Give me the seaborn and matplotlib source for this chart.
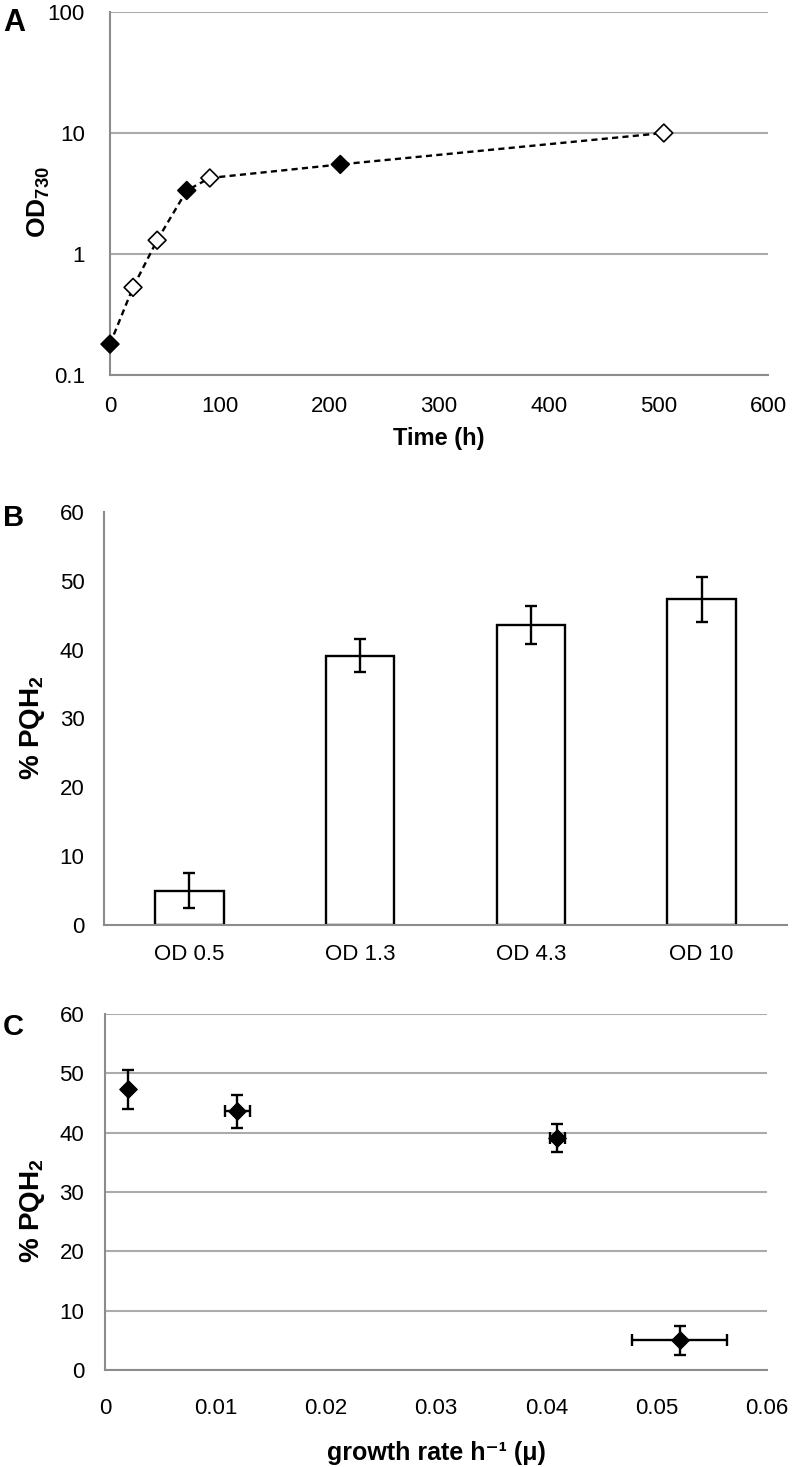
import numpy as np
import pandas as pd
import matplotlib
matplotlib.use('Agg')
import matplotlib.pyplot as plt
import seaborn as sns
from matplotlib import font_manager

# ---------------- data ----------------
time_h = [0, 21, 43, 70, 91, 210, 505]
od730 = [0.18, 0.53, 1.3, 3.35, 4.25, 5.5, 10.0]
sampled = [True, False, False, True, False, True, False]

conditions = ['OD 0.5', 'OD 1.3', 'OD 4.3', 'OD 10']
pqh2 = [5.0, 39.1, 43.6, 47.3]
pqh2_err = [2.5, 2.4, 2.8, 3.3]

growth_rate = [0.0521, 0.0410, 0.0120, 0.0021]
growth_err = [0.0043, 0.0007, 0.0011, 0.0]

a_xticks = [0, 100, 200, 300, 400, 500, 600]
a_yticks = [0.1, 1, 10, 100]
a_yticklabels = ['0.1', '1', '10', '100']
pct_ticks = [0, 10, 20, 30, 40, 50, 60]
c_xticks = [0, 0.01, 0.02, 0.03, 0.04, 0.05, 0.06]
c_xticklabels = ['0', '0.01', '0.02', '0.03', '0.04', '0.05', '0.06']

# ---------------- style ----------------
sns.set_style('white')
names = {f.name for f in font_manager.fontManager.ttflist}
REG = 'Liberation Sans' if 'Liberation Sans' in names else 'DejaVu Sans'
NARROW = 'Liberation Sans Narrow' if 'Liberation Sans Narrow' in names else REG
plt.rcParams['font.family'] = [REG, 'DejaVu Sans']
plt.rcParams['mathtext.fontset'] = 'custom'
plt.rcParams['mathtext.rm'] = REG
plt.rcParams['mathtext.bf'] = REG + ':bold'
plt.rcParams['mathtext.it'] = REG + ':italic'
plt.rcParams['text.color'] = 'black'
plt.rcParams['axes.labelcolor'] = 'black'
plt.rcParams['xtick.labelcolor'] = 'black'
plt.rcParams['ytick.labelcolor'] = 'black'

W, H = 796, 1467
fig = plt.figure(figsize=(W / 100, H / 100), dpi=100)


def axes_px(left, right, top, bottom):
    return fig.add_axes([left / W, 1 - bottom / H, (right - left) / W, (bottom - top) / H])


SPINE = '#8c8c8c'
GRID = '#ababab'

# ---------------- panel A ----------------
axA = axes_px(110, 768, 12, 375)
dfA = pd.DataFrame({'time': time_h, 'od': od730, 'sampled': sampled})
sns.lineplot(data=dfA, x='time', y='od', ax=axA, color='black', lw=1.7,
             ls=(0, (2.6, 1.8)), estimator=None, sort=False, zorder=2)
sns.scatterplot(data=dfA, x='time', y='od', hue='sampled',
                palette={True: 'black', False: 'white'}, marker='D', s=82,
                edgecolor='black', linewidth=1.2, legend=False, ax=axA,
                zorder=3, clip_on=False)
axA.set_yscale('log')
axA.set_xlim(0, 600)
axA.set_ylim(0.1, 100)
axA.set_xticks(a_xticks)
axA.set_xticklabels([str(t) for t in a_xticks], fontsize=16)
axA.set_yticks(a_yticks)
axA.set_yticklabels(a_yticklabels, fontsize=16)
axA.yaxis.set_minor_locator(matplotlib.ticker.NullLocator())
axA.yaxis.grid(True, color=GRID, lw=1.5)
axA.set_axisbelow(True)
axA.tick_params(axis='y', direction='out', length=6, width=1.3, color=SPINE,
                labelcolor='black', pad=12)
axA.tick_params(axis='x', direction='out', length=7, width=1.3, color=SPINE,
                labelcolor='black', pad=8)
axA.set_xlabel('Time (h)', fontsize=17, fontweight='bold')
axA.set_ylabel(r'OD$_{\mathbf{730}}$', fontsize=19, fontweight='bold')
axA.yaxis.set_label_coords(-0.088, 0.477)
axA.xaxis.set_label_coords(0.5, -0.143)

# ---------------- panel B ----------------
axB = axes_px(104, 787, 512, 925)
sns.barplot(x=conditions, y=pqh2, ax=axB, color='white', saturation=1,
            edgecolor='black', linewidth=1.7, width=0.4, errorbar=None)
axB.errorbar(np.arange(len(conditions)), pqh2, yerr=pqh2_err, fmt='none',
             ecolor='black', elinewidth=1.7, capsize=4, capthick=1.7, zorder=4)
axB.set_xlim(-0.5, len(conditions) - 0.5)
axB.set_ylim(0, 60)
axB.set_yticks(pct_ticks)
axB.set_yticklabels([str(t) for t in pct_ticks], fontsize=16, family=NARROW)
axB.set_xticks(np.arange(len(conditions)))
axB.set_xticklabels(conditions, fontsize=16)
axB.tick_params(axis='y', length=0, pad=14, labelcolor='black')
axB.tick_params(axis='x', length=0, pad=14, labelcolor='black')
axB.set_ylabel(r'% PQH$_{\mathbf{2}}$', fontsize=20, fontweight='bold')
axB.yaxis.set_label_coords(-0.083, 0.479)
axB.set_xlabel('')

# ---------------- panel C ----------------
axC = axes_px(105, 767, 1014, 1370)
sns.scatterplot(x=growth_rate, y=pqh2, marker='D', color='black', s=80,
                edgecolor='black', linewidth=0.8, ax=axC, zorder=4, legend=False)
axC.errorbar(growth_rate, pqh2, xerr=growth_err, yerr=pqh2_err, fmt='none',
             ecolor='black', elinewidth=1.7, capsize=4, capthick=1.7, zorder=3)
axC.set_xlim(0, 0.06)
axC.set_ylim(0, 60)
axC.set_xticks(c_xticks)
axC.set_xticklabels(c_xticklabels, fontsize=16, family=NARROW)
axC.set_yticks(pct_ticks)
axC.set_yticklabels([str(t) for t in pct_ticks], fontsize=16, family=NARROW)
axC.yaxis.grid(True, color=GRID, lw=1.5)
axC.set_axisbelow(True)
axC.tick_params(axis='y', direction='out', length=5, width=1.3, color=SPINE,
                labelcolor='black', pad=10)
axC.tick_params(axis='x', direction='out', length=7, width=1.3, color=SPINE,
                labelcolor='black', pad=13)
axC.set_xlabel('growth rate h\u207b\u00b9 (\u03bc)', fontsize=18, fontweight='bold')
axC.xaxis.set_label_coords(0.5, -0.2)
axC.set_ylabel(r'% PQH$_{\mathbf{2}}$', fontsize=20, fontweight='bold')
axC.yaxis.set_label_coords(-0.088, 0.447)

for ax in (axA, axB, axC):
    for side in ('top', 'right'):
        ax.spines[side].set_visible(False)
    for side in ('left', 'bottom'):
        ax.spines[side].set_color(SPINE)
        ax.spines[side].set_linewidth(1.5)

fig.text(3 / W, 1 - 8 / H, 'A', fontsize=22, fontweight='bold', va='top', ha='left')
fig.text(3 / W, 1 - 504 / H, 'B', fontsize=21, fontweight='bold', va='top', ha='left')
fig.text(3 / W, 1 - 1013 / H, 'C', fontsize=21, fontweight='bold', va='top', ha='left')

fig.savefig('out.png', dpi=100)
